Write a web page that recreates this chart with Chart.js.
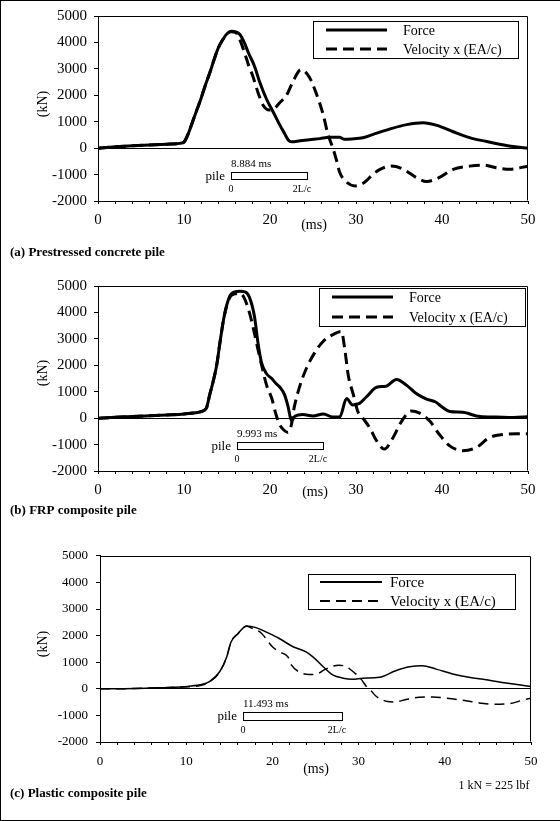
<!DOCTYPE html>
<html>
<head>
<meta charset="utf-8">
<script src="https://cdn.jsdelivr.net/npm/chart.js@4.4.1/dist/chart.umd.min.js"></script>
<style>
html,body{margin:0;padding:0;background:#fff;}
#page{position:relative;width:560px;height:821px;overflow:hidden;background:#fff;}
#page canvas{position:absolute;left:0;}
#frame{position:absolute;left:0;top:0;width:560px;height:821px;box-sizing:border-box;border-left:1px solid #000;border-top:1px solid #000;border-bottom:1px solid #000;pointer-events:none;}
</style>
</head>
<body>
<div id="page">
<canvas id="ca" width="560" height="270" style="top:0px"></canvas>
<canvas id="cb" width="560" height="270" style="top:270px"></canvas>
<canvas id="cc" width="560" height="281" style="top:540px"></canvas>
<div id="frame"></div>
</div>
<script>
// ---------- DATA ----------
const seriesNames = ['Force', 'Velocity x (EA/c)'];
const panelTitles = ['(a) Prestressed concrete pile', '(b) FRP composite pile', '(c) Plastic composite pile'];
const xAxisTitle = '(ms)';
const yAxisTitle = '(kN)';
const unitNote = '1 kN = 225 lbf';
const twoLc = [8.884, 9.993, 11.493];            // 2L/c durations (ms)
const twoLcStart = [15.43, 16.13, 16.55];        // start of the 2L/c bar (ms)
const pileLabels = ['8.884 ms', '9.993 ms', '11.493 ms'];

// (a) Prestressed concrete pile
const msForceA = [0, 2, 4, 6, 8, 9.5, 10.0, 10.5, 11.0, 11.5, 12.0, 12.5, 13.0, 13.5, 14.0, 14.5, 15.0, 15.5, 16.0, 16.5, 17.0, 17.5, 18.2, 18.8, 19.6, 20.4, 21.1, 21.7, 22.1, 22.5, 23.5, 24.6, 25.8, 26.9, 28.1, 28.6, 29.5, 30.8, 32.0, 33.9, 35.9, 37.8, 39.4, 41.3, 43.2, 45.2, 46.7, 48.3, 50];
const kNForceA = [0, 50, 90, 120, 150, 180, 230, 550, 1000, 1450, 1900, 2400, 2850, 3350, 3800, 4100, 4330, 4420, 4400, 4300, 4000, 3600, 3100, 2500, 1850, 1350, 900, 550, 320, 240, 280, 320, 360, 410, 410, 340, 350, 390, 520, 720, 890, 960, 860, 620, 400, 250, 150, 60, 0];
const msVelA = [0, 2, 4, 6, 8, 9.5, 10.0, 10.5, 11.0, 11.5, 12.0, 12.5, 13.0, 13.5, 14.0, 14.5, 15.0, 15.5, 16.0, 16.5, 17.0, 17.5, 18.0, 18.6, 19.2, 19.9, 20.5, 21.1, 21.9, 22.7, 23.6, 24.6, 25.4, 26.2, 26.7, 27.3, 27.7, 28.1, 28.9, 29.9, 31.0, 32.0, 32.8, 34.1, 35.5, 37.0, 38.2, 39.7, 41.3, 43.2, 44.8, 46.3, 47.9, 50];
const kNVelA = [0, 50, 90, 120, 150, 180, 230, 550, 1000, 1450, 1900, 2400, 2850, 3350, 3800, 4100, 4330, 4400, 4380, 4100, 3650, 3150, 2730, 2110, 1620, 1440, 1500, 1710, 1990, 2540, 2970, 2670, 2050, 1250, 570, 10, -420, -910, -1280, -1430, -1290, -980, -800, -680, -800, -1110, -1260, -1110, -800, -680, -640, -740, -800, -680];

// (b) FRP composite pile
const msForceB = [0, 2, 4, 6, 8, 10, 12, 12.6, 13.0, 13.4, 13.8, 14.2, 14.7, 15.3, 15.9, 16.5, 17.1, 17.6, 18.2, 18.6, 19.0, 19.6, 20.2, 20.7, 21.2, 21.7, 22.1, 22.5, 22.9, 23.8, 25.0, 26.2, 27.3, 28.1, 28.9, 29.6, 30.4, 31.2, 32.4, 33.5, 34.7, 35.9, 37.0, 38.2, 39.2, 40.1, 40.9, 42.4, 44.4, 46.3, 48.3, 50];
const kNForceB = [0, 30, 60, 90, 120, 160, 250, 380, 900, 1400, 2000, 2900, 3900, 4600, 4780, 4800, 4780, 4580, 3840, 2850, 2110, 1680, 1500, 1310, 1150, 880, 440, -100, 70, 140, 80, 160, 40, 40, 740, 500, 560, 800, 1170, 1210, 1460, 1240, 930, 720, 620, 400, 250, 220, 60, 40, 25, 50];
const msVelB = [0, 2, 4, 6, 8, 10, 12, 12.6, 13.0, 13.4, 13.8, 14.2, 14.7, 15.3, 15.9, 16.5, 17.0, 17.6, 18.2, 18.6, 19.1, 19.6, 20.2, 20.7, 21.1, 21.6, 22.1, 22.5, 22.8, 23.5, 24.2, 25.2, 26.2, 27.3, 28.3, 28.7, 29.1, 29.7, 30.2, 30.8, 31.6, 32.4, 33.3, 34.3, 35.3, 36.4, 37.4, 38.6, 39.7, 40.9, 42.4, 44.0, 45.5, 47.1, 48.7, 50];
const kNVelB = [0, 30, 60, 90, 120, 160, 250, 380, 900, 1400, 2000, 2900, 3900, 4550, 4700, 4720, 4550, 4000, 3200, 2600, 1900, 1250, 750, 140, -230, -450, -540, -230, 380, 1250, 1860, 2480, 2910, 3160, 3280, 2600, 1620, 880, 260, 0, -370, -860, -1170, -740, -120, 270, 190, -120, -620, -1050, -1230, -1110, -740, -620, -590, -590];

// (c) Plastic composite pile
const msForceC = [0, 2, 4, 6, 8, 9.7, 11.6, 12.7, 13.9, 14.7, 15.2, 16.0, 17.0, 18.1, 19.3, 20.8, 22.4, 23.9, 24.7, 25.9, 27.0, 28.2, 29.3, 30.5, 32.4, 34.3, 35.9, 37.4, 39.0, 40.9, 42.8, 44.8, 47.1, 48.6, 50];
const kNForceC = [0, 0, 10, 30, 50, 80, 150, 270, 650, 1200, 1760, 2070, 2360, 2300, 2130, 1890, 1580, 1390, 1200, 830, 520, 400, 360, 400, 430, 680, 830, 870, 740, 560, 430, 340, 220, 150, 90];
const msVelC = [0, 2, 4, 6, 8, 9.7, 11.6, 12.7, 13.9, 14.7, 15.2, 16.0, 17.0, 17.6, 18.2, 18.7, 19.1, 20.0, 20.8, 21.8, 22.2, 23.5, 24.3, 25.0, 26.0, 27.0, 27.7, 28.5, 29.6, 30.2, 31.0, 31.4, 32.0, 33.2, 34.1, 35.5, 37.0, 38.6, 40.1, 42.1, 44.0, 45.5, 47.5, 49.0, 50];
const kNVelC = [0, 0, 10, 30, 50, 70, 120, 260, 640, 1200, 1760, 2070, 2350, 2280, 2200, 2100, 1950, 1580, 1390, 1200, 900, 580, 540, 540, 710, 850, 890, 840, 580, 400, 50, -60, -270, -470, -500, -400, -320, -310, -350, -430, -530, -580, -560, -430, -350];

const xMin = 0, xMax = 50, xStep = 2, xLabelEvery = 10;
const yMin = -2000, yMax = 5000, yStep = 1000;

// ---------- LAYOUT / STYLE ----------
const SERIF = "'Liberation Serif','Times New Roman',serif";
const panels = [
  { key:'a', canvas:'ca', H:270, area:{left:98, right:528, top:12, bottom:201},
    forceT:msForceA, forceV:kNForceA, velT:msVelA, velV:kNVelA,
    lw:3, dash:[11,6], tickSize:15, xPad:7, yPad:7,
    legend:{rightGap:10, topGap:5, w:205, h:37, rows:[9,28], sx:13, sl:61, tx:90, lw:3, font:'14px '+SERIF},
    pileKN:[-890,-1150], kN:[43,104], ms:[314,225], cap:[10,253], unit:null },
  { key:'b', canvas:'cb', H:270, area:{left:98, right:528, top:12, bottom:201},
    forceT:msForceB, forceV:kNForceB, velT:msVelB, velV:kNVelB,
    lw:3, dash:[11,6], tickSize:15, xPad:7, yPad:7,
    legend:{rightGap:3, topGap:2, w:206, h:38, rows:[9,29], sx:13, sl:61, tx:90, lw:3, font:'14px '+SERIF},
    pileKN:[-890,-1150], kN:[43,103], ms:[315,222], cap:[10,241], unit:null },
  { key:'c', canvas:'cc', H:281, area:{left:100, right:531, top:14, bottom:202},
    forceT:msForceC, forceV:kNForceC, velT:msVelC, velV:kNVelC,
    lw:1.5, dash:[10,6], tickSize:13, xPad:9, yPad:8,
    legend:{rightGap:16, topGap:18, w:207, h:35, rows:[8,27], sx:12, sl:62, tx:82, lw:2, font:'15px '+SERIF},
    pileKN:[-890,-1180], kN:[43,104], ms:[316,229], cap:[10,254], unit:[494,246] }
];

function zip(t, v) { return t.map((x, i) => ({x: x, y: v[i]})); }

function annotPlugin(p, idx) {
  return {
    id: 'annot' + p.key,
    afterDraw(chart) {
      const ctx = chart.ctx, a = chart.chartArea, xs = chart.scales.x, ys = chart.scales.y;
      ctx.save();
      ctx.strokeStyle = '#000'; ctx.lineWidth = 1; ctx.setLineDash([]);
      // top and right frame of plot area
      const L0 = Math.round(a.left) + 0.5, R0 = Math.round(a.right) - 0.5, T0 = Math.round(a.top) + 0.5, B0 = Math.round(a.bottom) - 0.5;
      ctx.beginPath(); ctx.moveTo(L0, T0); ctx.lineTo(R0, T0); ctx.lineTo(R0, B0); ctx.stroke();

      // legend
      const L = p.legend;
      const bx = Math.round(a.right - L.rightGap - L.w), by = Math.round(a.top + L.topGap);
      ctx.fillStyle = '#fff'; ctx.fillRect(bx, by, L.w, L.h);
      ctx.strokeRect(bx + 0.5, by + 0.5, L.w, L.h);
      chart.data.datasets.forEach((ds, i) => {
        const ry = by + L.rows[i];
        ctx.save();
        ctx.lineWidth = L.lw; ctx.setLineDash(ds.borderDash || []);
        ctx.beginPath(); ctx.moveTo(bx + L.sx, ry); ctx.lineTo(bx + L.sx + L.sl, ry); ctx.stroke();
        ctx.restore();
        ctx.fillStyle = '#000'; ctx.font = L.font; ctx.textBaseline = 'middle'; ctx.textAlign = 'left';
        ctx.fillText(ds.label, bx + L.tx, ry + 1);
      });

      // pile 2L/c bar
      const x0 = Math.round(xs.getPixelForValue(twoLcStart[idx]));
      const x1 = Math.round(xs.getPixelForValue(twoLcStart[idx] + twoLc[idx]));
      const y0 = Math.round(ys.getPixelForValue(p.pileKN[0]));
      const y1 = Math.round(ys.getPixelForValue(p.pileKN[1]));
      ctx.fillStyle = '#fff'; ctx.fillRect(x0, y0, x1 - x0, y1 - y0);
      ctx.strokeRect(x0 + 0.5, y0 + 0.5, x1 - x0, y1 - y0);
      ctx.fillStyle = '#000'; ctx.textBaseline = 'middle';
      ctx.font = '11px ' + SERIF; ctx.textAlign = 'left';
      ctx.fillText(pileLabels[idx], x0, y0 - 8);
      ctx.font = '13px ' + SERIF; ctx.textAlign = 'right';
      ctx.fillText('pile', x0 - 6, (y0 + y1) / 2 + 1);
      ctx.font = '10px ' + SERIF; ctx.textAlign = 'center';
      ctx.fillText('0', x0, y1 + 10);
      ctx.fillText('2L/c', x1 - 5, y1 + 10);

      // axis titles
      ctx.font = '14px ' + SERIF;
      ctx.save(); ctx.translate(p.kN[0], p.kN[1]); ctx.rotate(-Math.PI / 2);
      ctx.textAlign = 'center'; ctx.textBaseline = 'middle'; ctx.fillText(yAxisTitle, 0, 0); ctx.restore();
      ctx.textAlign = 'center'; ctx.textBaseline = 'middle';
      ctx.fillText(xAxisTitle, p.ms[0], p.ms[1]);

      // caption
      ctx.font = 'bold 13px ' + SERIF; ctx.textAlign = 'left';
      ctx.fillText(panelTitles[idx], p.cap[0], p.cap[1]);
      if (p.unit) {
        ctx.font = '12px ' + SERIF; ctx.textAlign = 'center';
        ctx.fillText(unitNote, p.unit[0], p.unit[1]);
      }
      ctx.restore();
    }
  };
}

panels.forEach((p, idx) => {
  const el = document.getElementById(p.canvas);
  const W = 560;
  const xH = 30;
  new Chart(el, {
    type: 'line',
    data: {
      datasets: [
        { label: seriesNames[0], data: zip(p.forceT, p.forceV), borderColor: '#000', backgroundColor: '#000',
          borderWidth: p.lw, pointRadius: 0, fill: false, cubicInterpolationMode: 'monotone', borderJoinStyle: 'round' },
        { label: seriesNames[1], data: zip(p.velT, p.velV), borderColor: '#000', backgroundColor: '#000',
          borderWidth: p.lw, borderDash: p.dash, pointRadius: 0, fill: false, cubicInterpolationMode: 'monotone' }
      ]
    },
    options: {
      responsive: false, animation: false, devicePixelRatio: 1,
      layout: { padding: { left: 0, right: W - p.area.right, top: p.area.top, bottom: p.H - p.area.bottom - xH } },
      plugins: { legend: { display: false }, tooltip: { enabled: false } },
      scales: {
        x: {
          type: 'linear', min: xMin, max: xMax,
          afterFit(s) { s.height = xH; },
          ticks: { stepSize: xStep, autoSkip: false, maxRotation: 0, color: '#000', padding: p.xPad,
                   font: { family: SERIF, size: p.tickSize },
                   callback: (v) => (v % xLabelEvery === 0 ? String(v) : '') },
          grid: { drawOnChartArea: false, color: '#000', tickColor: '#000', tickLength: 3, lineWidth: 1 },
          border: { display: true, color: '#000', width: 1 }
        },
        y: {
          min: yMin, max: yMax,
          afterFit(s) { s.width = p.area.left; },
          ticks: { stepSize: yStep, color: '#000', padding: p.yPad, font: { family: SERIF, size: p.tickSize },
                   callback: (v) => String(v) },
          grid: { color: (c) => (c.tick && c.tick.value === 0 ? '#000' : 'rgba(0,0,0,0)'), tickColor: '#000', tickLength: 4, lineWidth: 1 },
          border: { display: true, color: '#000', width: 1 }
        }
      }
    },
    plugins: [annotPlugin(p, idx)]
  });
});
</script>
</body>
</html>
